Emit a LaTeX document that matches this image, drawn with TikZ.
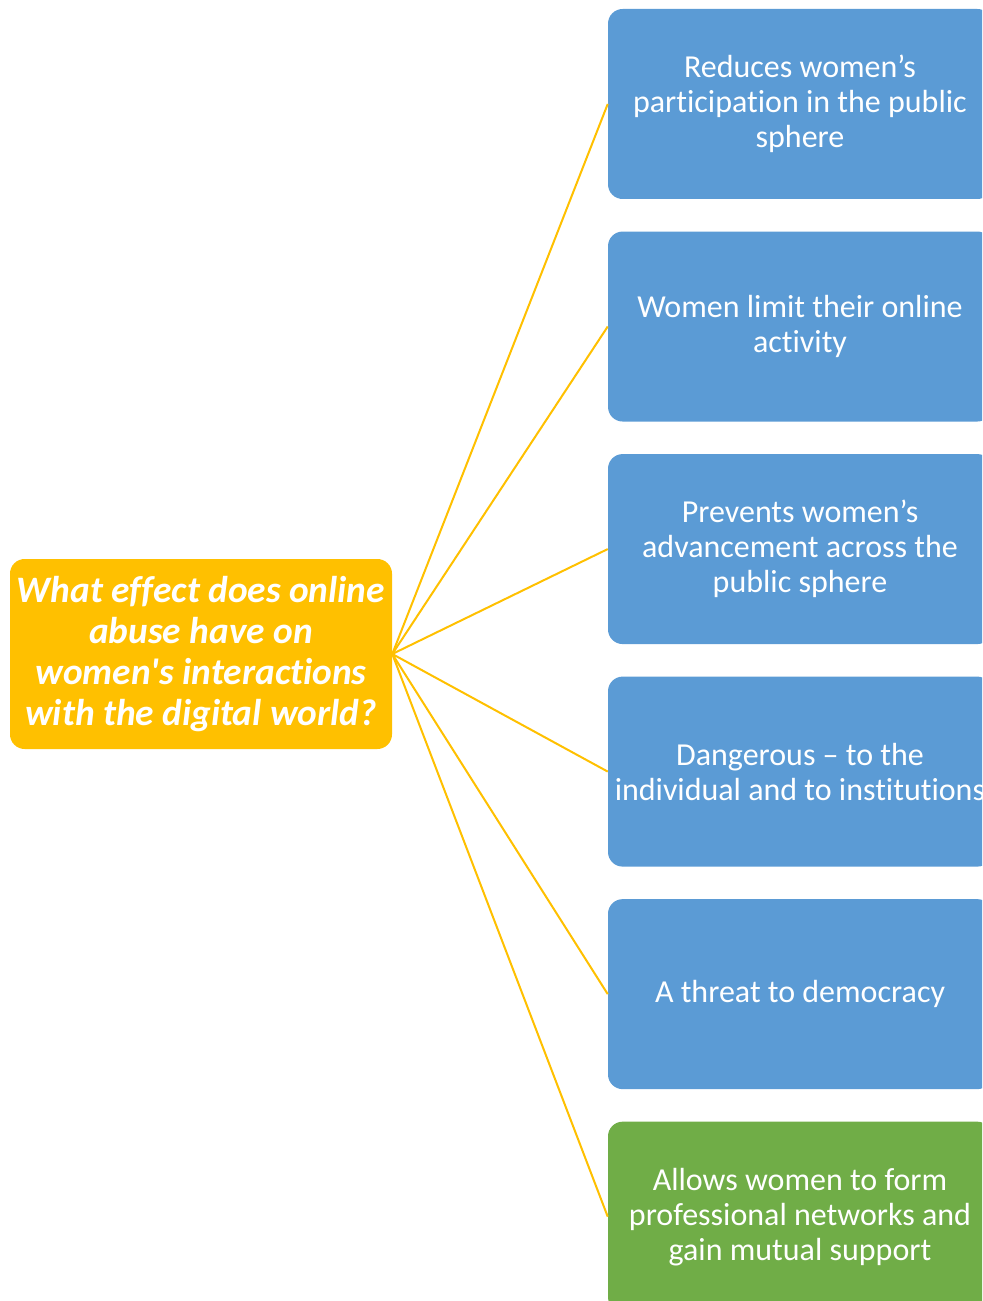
\documentclass[tikz,border=0pt]{standalone}
\usepackage{fontspec}
\setmainfont{Carlito}[Ligatures={TeXOff,NoCommon}]
\usetikzlibrary{positioning}
\definecolor{boxblue}{HTML}{5B9BD5}
\definecolor{boxgold}{HTML}{FFC000}
\definecolor{boxgreen}{HTML}{70AD47}

\begin{document}
\begin{tikzpicture}[
    x=0.75pt, y=-0.75pt,
    node distance=24pt,
    effect/.style={rectangle, rounded corners=11pt, fill=boxblue, text=white,
                minimum width=288pt, minimum height=142.5pt, inner sep=1pt,
                align=center, font=\fontsize{24pt}{26.25pt}\selectfont},
    question/.style={rectangle, rounded corners=11pt, fill=boxgold, text=white,
                minimum width=286.5pt, minimum height=142.5pt, inner sep=1pt,
                align=center, font=\fontsize{28pt}{30.75pt}\selectfont\bfseries\itshape},
    link/.style={draw=boxgold, line width=1.5pt}
]
\useasboundingbox (0,0) rectangle (982,1301);
\clip (0,0) rectangle (982,1301);

\node[question] (q0) at (201,654) {What effect does online\\abuse have on\\women's interactions\\with the digital world?};
\node[effect] (e1) at (800,104) {Reduces women’s\\participation in the public\\sphere};
\node[effect, below=of e1] (e2) {Women limit their online\\activity};
\node[effect, below=of e2] (e3) {Prevents women’s\\advancement across the\\public sphere};
\node[effect, below=of e3] (e4) {Dangerous – to the\\individual and to institutions};
\node[effect, below=of e4] (e5) {A threat to democracy};
\node[effect, below=of e5, fill=boxgreen] (e6) {Allows women to form\\professional networks and\\gain mutual support};

\draw[link] (q0.east) -- (e1.west);
\draw[link] (q0.east) -- (e2.west);
\draw[link] (q0.east) -- (e3.west);
\draw[link] (q0.east) -- (e4.west);
\draw[link] (q0.east) -- (e5.west);
\draw[link] (q0.east) -- (e6.west);
\end{tikzpicture}
\end{document}
